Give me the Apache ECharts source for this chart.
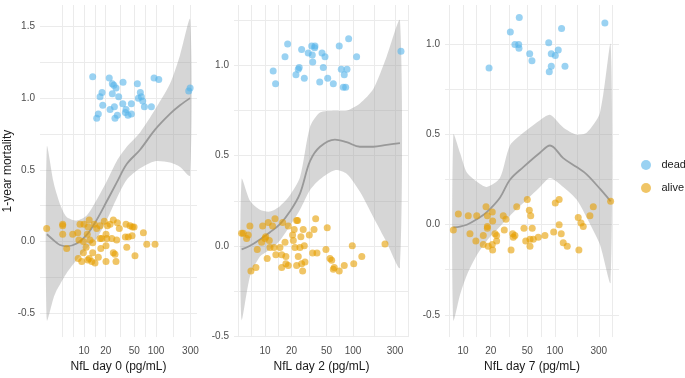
<!DOCTYPE html>
<html>
<head>
<meta charset="utf-8">
<script src="https://cdn.jsdelivr.net/npm/echarts@6.0.0/dist/echarts.min.js"></script>
<style>
  html, body { margin: 0; padding: 0; background: #fff; }
  #chart { width: 685px; height: 378px; }
</style>
</head>
<body>
<div id="chart"></div>
<script>
// ---- data ----
// panel 0: NfL day 0
var dead0X = [13.2, 22.4, 24.7, 25.9, 34.8, 55, 93.8, 109, 17.8, 16.7, 27.8, 24.7, 30.3, 60.5, 62.5, 56.8, 65.3, 18.2, 26.4, 34.5, 45.4, 68.9, 86.1, 23, 38.3, 37.5, 15.8, 29, 45.4, 40.8, 15, 26.9, 297, 284];
var dead0Y = [1.15, 1.14, 1.10, 1.09, 1.11, 1.10, 1.14, 1.13, 1.04, 1.01, 1.07, 1.03, 1.01, 1.04, 1.01, 1.00, 0.98, 0.95, 0.94, 0.96, 0.96, 0.94, 0.94, 0.92, 0.92, 0.90, 0.89, 0.88, 0.89, 0.88, 0.86, 0.86, 1.07, 1.05];
var alive0X = [3.03, 5.06, 5.06, 5.06, 5.75, 6.97, 8.18, 8.8, 10, 11.8, 11.4, 13.9, 15, 16.7, 19.1, 21.1, 23, 25.5, 29, 30.9, 38.3, 43.5, 46.9, 49.5, 66.7, 8.5, 9.8, 11.1, 12.1, 13.2, 16.7, 17.6, 20.2, 20.7, 24.3, 28.4, 37.5, 41.2, 46.4, 10.7, 9.8, 8.3, 9.3, 11.3, 11.8, 13.2, 12.8, 14.2, 15.8, 17.1, 20.2, 20.2, 25.5, 26.9, 27.8, 39.2, 51, 74.3, 96.8];
var alive0Y = [0.09, 0.12, 0.11, 0.05, -0.05, 0.05, 0.06, 0.12, 0.12, 0.15, 0.10, 0.12, 0.09, 0.11, 0.14, 0.11, 0.12, 0.15, 0.13, 0.09, 0.12, 0.11, 0.10, 0.10, 0.06, 0.01, 0.0, 0.05, 0.01, -0.01, 0.02, 0.02, 0.05, 0.02, 0.02, 0.01, 0.03, 0.03, 0.04, -0.04, -0.08, -0.12, -0.14, -0.13, -0.12, -0.08, -0.14, -0.15, -0.11, -0.05, -0.03, -0.14, -0.08, -0.09, -0.14, -0.04, -0.10, -0.02, -0.02];
var smooth0X = [3.05, 3.75, 4.18, 4.64, 5.75, 7.92, 10.9, 15.0, 20.7, 28.4, 39.2, 60, 96.8, 156, 215, 297];
var fit0 = [0.05, 0.01, -0.01, -0.025, -0.035, -0.015, 0.045, 0.15, 0.28, 0.41, 0.54, 0.64, 0.78, 0.89, 0.95, 1.0];
var lo0 = [-0.55, -0.40, -0.34, -0.30, -0.22, -0.13, -0.05, 0.02, 0.15, 0.30, 0.43, 0.51, 0.56, 0.55, 0.52, 0.46];
var hi0 = [0.66, 0.42, 0.33, 0.26, 0.17, 0.145, 0.18, 0.29, 0.42, 0.56, 0.66, 0.76, 0.92, 1.1, 1.3, 1.55];

// panel 1: NfL day 2
var dead1X = [12.4, 13.2, 18.1, 16.9, 26.1, 24.5, 23.9, 22.5, 28, 31, 34, 34.5, 34.9, 37, 36.7, 44.5, 48.1, 46, 41.9, 51.6, 59.8, 69.8, 89.3, 73.6, 85.5, 79.6, 77.6, 82.6, 110, 351];
var dead1Y = [0.97, 0.90, 1.12, 1.05, 1.09, 0.99, 0.98, 0.95, 0.93, 1.07, 1.11, 1.06, 1.02, 1.11, 1.10, 1.07, 1.05, 0.99, 0.91, 0.93, 0.90, 1.11, 1.15, 0.98, 0.98, 0.95, 0.88, 0.88, 1.05, 1.08];
var alive1X = [5.43, 5.67, 6.19, 6.46, 6.75, 6.93, 7.9, 8.18, 9.17, 9.42, 10, 10.6, 10.9, 10.2, 11.2, 11.4, 12.2, 12.7, 13, 13.3, 14.8, 15.5, 15.5, 15.9, 16.9, 17.3, 17.3, 18.4, 18.4, 20.6, 21, 21.5, 21.9, 22.9, 23.5, 22.9, 23.9, 25, 25.6, 26.1, 26.8, 27.2, 28, 28.5, 31.9, 34.8, 36.1, 37.7, 39, 51, 49.3, 54.8, 57.3, 59.8, 61.3, 69.8, 79.6, 98.2, 102, 126, 231];
var alive1Y = [0.07, 0.07, 0.04, 0.06, 0.11, -0.14, -0.12, -0.02, 0.02, 0.11, 0.04, -0.07, 0.13, 0.05, 0.03, -0.01, 0.11, -0.01, 0.15, -0.05, -0.01, -0.05, -0.12, 0.13, 0.02, -0.06, -0.10, -0.11, 0.11, 0.06, 0.03, 0.09, -0.01, 0.14, 0.14, -0.11, -0.06, -0.01, 0.05, -0.10, -0.14, 0.09, 0.0, -0.09, 0.06, -0.04, 0.09, 0.15, -0.04, 0.10, -0.02, -0.07, -0.08, -0.13, -0.12, -0.14, -0.11, 0.0, -0.10, -0.06, 0.01];
var smooth1X = [5.43, 6.76, 8.77, 11.4, 14.8, 19.2, 25.0, 32.5, 42.2, 62.4, 84.7, 120, 170, 241, 342];
var fit1 = [-0.02, 0.0, 0.035, 0.075, 0.12, 0.19, 0.29, 0.47, 0.55, 0.59, 0.575, 0.55, 0.55, 0.56, 0.57];
var lo1 = [-0.41, -0.17, -0.06, -0.02, 0.03, 0.11, 0.20, 0.31, 0.37, 0.42, 0.40, 0.30, 0.16, 0.02, -0.12];
var hi1 = [0.37, 0.25, 0.20, 0.19, 0.22, 0.28, 0.38, 0.66, 0.74, 0.75, 0.75, 0.79, 0.87, 1.05, 1.25];

// panel 2: NfL day 7
var dead2X = [19.2, 32.7, 40.9, 36.7, 40.3, 40.6, 53.1, 56.2, 85.5, 118, 91.2, 100.8, 108.6, 91.2, 86.7, 128.5, 349];
var dead2Y = [0.87, 1.07, 1.15, 1.0, 1.0, 0.98, 0.95, 0.91, 1.01, 1.09, 0.95, 0.94, 0.97, 0.88, 0.85, 0.88, 1.12];
var alive2X = [7.85, 8.9, 11.4, 11.9, 14.1, 13.8, 16.6, 16.6, 17.8, 18.4, 18.4, 18.4, 18.8, 20.8, 21, 20.8, 21, 22.3, 23.2, 23.2, 27.4, 29.3, 28.1, 33.3, 34.7, 35.2, 36.7, 38.4, 46, 48.1, 50, 52.6, 54.5, 53.5, 53.5, 56.6, 58.1, 65.8, 77.8, 96.8, 100.8, 111, 111, 117, 123, 136, 179, 182, 192, 203, 240, 261, 403];
var alive2Y = [-0.03, 0.06, 0.05, -0.05, 0.05, -0.09, -0.06, -0.11, 0.10, 0.05, -0.01, -0.02, -0.12, 0.07, 0.02, -0.11, -0.14, -0.05, -0.06, -0.09, 0.05, 0.03, -0.03, -0.14, -0.05, -0.07, -0.06, 0.10, -0.02, -0.09, 0.14, 0.08, 0.05, -0.08, -0.12, -0.02, -0.08, -0.07, -0.06, -0.04, 0.12, 0.14, 0.0, -0.05, -0.10, -0.12, 0.04, -0.14, 0.01, -0.01, 0.05, 0.10, 0.13];
var smooth2X = [7.85, 9.27, 11.0, 14.1, 18.1, 25.2, 32.4, 45.2, 68.7, 88.3, 123, 172, 221, 308, 403];
var fit2 = [-0.015, -0.01, 0.0, 0.03, 0.07, 0.15, 0.25, 0.32, 0.40, 0.44, 0.37, 0.32, 0.28, 0.20, 0.13];
var lo2 = [-0.53, -0.39, -0.28, -0.17, -0.09, -0.01, 0.05, 0.12, 0.21, 0.26, 0.21, 0.14, 0.04, -0.11, -0.32];
var hi2 = [0.50, 0.40, 0.29, 0.24, 0.21, 0.26, 0.44, 0.51, 0.58, 0.61, 0.54, 0.50, 0.51, 0.62, 1.0];

var xTitles = ['NfL day 0 (pg/mL)', 'NfL day 2 (pg/mL)', 'NfL day 7 (pg/mL)'];
var xBreaks = [10, 20, 50, 100, 300];
var xGridVals = [5, 7.07, 10, 14.1, 20, 31.6, 50, 70.7, 100, 173, 300, 424];
var yBreaks = [-0.5, 0, 0.5, 1, 1.5];
var yGridVals = [-0.5, -0.25, 0, 0.25, 0.5, 0.75, 1, 1.25, 1.5];

// ---- layout ----
var FONT = '"Liberation Sans", Arial, sans-serif';
var panels = [
  { left: 40, width: 157, xMin: 2.45, xMax: 370, yMin: -0.668, yMax: 1.65 },
  { left: 234, width: 175, xMin: 4.45, xMax: 433, yMin: -0.507, yMax: 1.337 },
  { left: 445, width: 174, xMin: 6.37, xMax: 497, yMin: -0.624, yMax: 1.22 }
];
var deadX = [dead0X, dead1X, dead2X], deadY = [dead0Y, dead1Y, dead2Y];
var aliveX = [alive0X, alive1X, alive2X], aliveY = [alive0Y, alive1Y, alive2Y];
var smX = [smooth0X, smooth1X, smooth2X], fits = [fit0, fit1, fit2];
var los = [lo0, lo1, lo2], his = [hi0, hi1, hi2];

function zip(xs, ys) {
  return xs.map(function (x, i) { return [x, ys[i]]; });
}

// confidence ribbon: one polygon, upper edge then lower edge reversed
function bandRender(xs, lo, hi) {
  return function (params, api) {
    if (params.dataIndex !== 0) return null;
    var top = xs.map(function (x, i) { return api.coord([x, hi[i]]); });
    var bottom = xs.map(function (x, i) { return api.coord([x, lo[i]]); }).reverse();
    return {
      type: 'polygon',
      shape: { points: top.concat(bottom), smooth: 0.25 },
      style: { fill: 'rgba(153,153,153,0.4)' }
    };
  };
}

var grids = [], xAxes = [], yAxes = [], series = [];
panels.forEach(function (p, i) {
  grids.push({ left: p.left, width: p.width, top: 5, height: 342 });
  xAxes.push({
    gridIndex: i, type: 'log', logBase: 10, min: p.xMin, max: p.xMax,
    name: xTitles[i], nameLocation: 'middle', nameGap: 22,
    nameTextStyle: { color: '#1a1a1a', fontSize: 12, fontFamily: FONT },
    axisLine: { show: false },
    axisTick: { show: false, customValues: xGridVals },
    axisLabel: { customValues: xBreaks, color: '#4d4d4d', fontSize: 10, margin: 9, fontFamily: FONT,
      formatter: function (v) { return String(Math.round(v)); } },
    splitLine: { show: true, lineStyle: { color: '#ebebeb', width: 1 } }
  });
  yAxes.push({
    gridIndex: i, type: 'value', min: p.yMin, max: p.yMax,
    name: i === 0 ? '1-year mortality' : '', nameLocation: 'middle', nameGap: 25,
    nameTextStyle: { color: '#1a1a1a', fontSize: 12, fontFamily: FONT },
    axisLine: { show: false },
    axisTick: { show: false, customValues: yGridVals },
    axisLabel: { customValues: yBreaks, color: '#4d4d4d', fontSize: 10, margin: 5, fontFamily: FONT,
      formatter: function (v) { return v.toFixed(1); } },
    splitLine: { show: true, lineStyle: { color: '#ebebeb', width: 1 } }
  });

  series.push({
    type: 'custom', xAxisIndex: i, yAxisIndex: i, silent: true, clip: true,
    renderItem: bandRender(smX[i], los[i], his[i]),
    encode: { x: 0, y: [1, 2] },
    data: smX[i].map(function (x, k) { return [x, los[i][k], his[i][k]]; }),
    z: 1
  });
  series.push({
    type: 'line', xAxisIndex: i, yAxisIndex: i, silent: true,
    data: zip(smX[i], fits[i]), smooth: 0.35, showSymbol: false, symbol: 'none',
    lineStyle: { color: '#999999', width: 1.8 }, z: 2
  });
  series.push({
    type: 'scatter', name: 'dead', xAxisIndex: i, yAxisIndex: i,
    data: zip(deadX[i], deadY[i]), symbolSize: 7,
    itemStyle: { color: '#56B4E9', opacity: 0.6 }, z: 3
  });
  series.push({
    type: 'scatter', name: 'alive', xAxisIndex: i, yAxisIndex: i,
    data: zip(aliveX[i], aliveY[i]), symbolSize: 7,
    itemStyle: { color: '#E69F00', opacity: 0.6 }, z: 3
  });
});

var chart = echarts.init(document.getElementById('chart'), null, { renderer: 'canvas' });
chart.setOption({
  animation: false,
  backgroundColor: '#ffffff',
  textStyle: { fontFamily: FONT },
  legend: {
    data: ['dead', 'alive'], orient: 'vertical', left: 636, top: 153, padding: 5,
    icon: 'circle', itemWidth: 21, itemHeight: 10, itemGap: 9,
    textStyle: { fontSize: 11, color: '#1a1a1a', lineHeight: 14, fontFamily: FONT },
    selectedMode: false
  },
  grid: grids,
  xAxis: xAxes,
  yAxis: yAxes,
  series: series
});
</script>
</body>
</html>
